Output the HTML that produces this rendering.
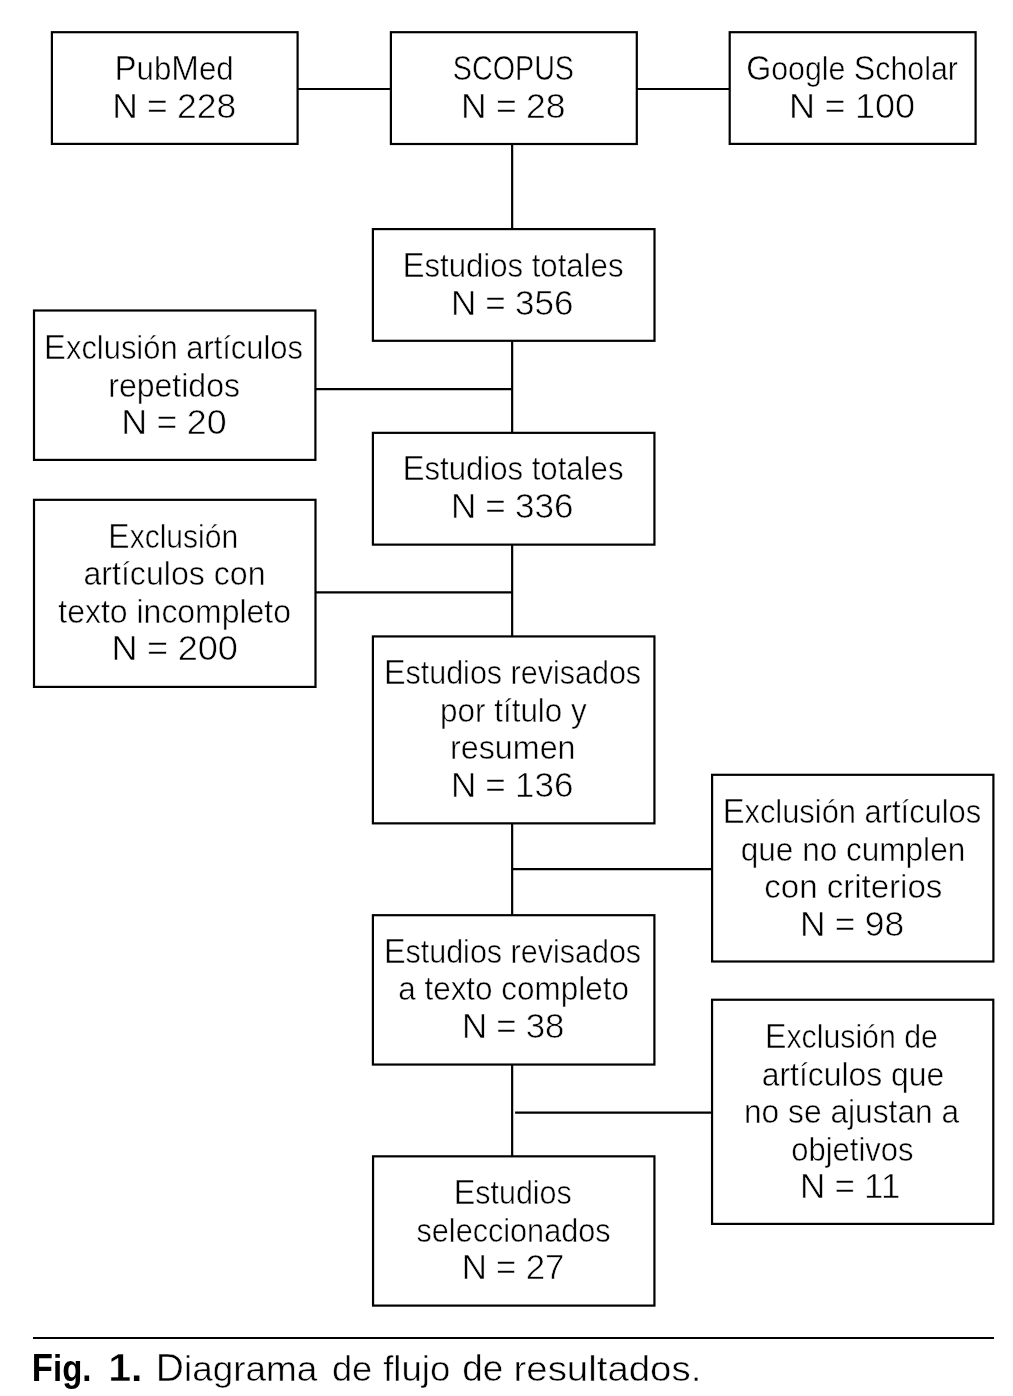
<!DOCTYPE html>
<html><head><meta charset="utf-8"><style>
html,body{margin:0;padding:0;background:#fff;width:1013px;height:1396px;overflow:hidden;}
svg{position:absolute;left:0;top:0;will-change:transform;}
text{font-family:"Liberation Sans",sans-serif;fill:#000;white-space:pre;stroke:#fff;stroke-width:0.5px;}
.u{stroke-width:0.6px;}
.bd{stroke-width:0px;}
</style></head><body>

<svg width="1013" height="1396" viewBox="0 0 1013 1396">
<g fill="none" stroke="#000" stroke-width="2.2">
<rect x="51.90" y="32.20" width="245.70" height="111.70"/>
<rect x="390.90" y="32.20" width="245.90" height="111.80"/>
<rect x="729.70" y="32.20" width="245.90" height="111.70"/>
<rect x="372.90" y="229.10" width="281.60" height="111.70"/>
<rect x="34.00" y="310.50" width="281.40" height="149.40"/>
<rect x="372.90" y="432.85" width="281.53" height="111.78"/>
<rect x="34.00" y="499.82" width="281.50" height="187.08"/>
<rect x="372.90" y="636.43" width="281.53" height="186.93"/>
<rect x="712.10" y="774.80" width="281.30" height="186.70"/>
<rect x="372.90" y="915.20" width="281.50" height="149.35"/>
<rect x="712.06" y="999.74" width="281.24" height="224.16"/>
<rect x="373.05" y="1156.34" width="281.38" height="149.26"/>
<line x1="297.60" y1="89.00" x2="390.90" y2="89.00"/>
<line x1="636.80" y1="89.00" x2="729.70" y2="89.00"/>
<line x1="512.15" y1="144.00" x2="512.15" y2="229.10"/>
<line x1="512.15" y1="340.80" x2="512.15" y2="432.85"/>
<line x1="315.40" y1="389.20" x2="512.15" y2="389.20"/>
<line x1="512.15" y1="544.63" x2="512.15" y2="636.43"/>
<line x1="315.40" y1="592.40" x2="512.15" y2="592.40"/>
<line x1="512.15" y1="823.36" x2="512.15" y2="915.20"/>
<line x1="512.15" y1="869.20" x2="712.10" y2="869.20"/>
<line x1="512.15" y1="1064.55" x2="512.15" y2="1156.34"/>
<line x1="515.10" y1="1112.60" x2="712.10" y2="1112.60"/>
<line x1="33" y1="1338.1" x2="994" y2="1338.1" stroke-width="2"/>
</g>
<text transform="translate(114.478,80.15) scale(0.94733,1)"><tspan font-size="35">P</tspan><tspan font-size="33">ub</tspan><tspan font-size="35">M</tspan><tspan font-size="33">ed</tspan></text>
<text transform="translate(112.180,117.55) scale(1.01339,1)"><tspan font-size="35">N</tspan><tspan font-size="33"> </tspan><tspan font-size="35" class="u">=</tspan><tspan font-size="33"> </tspan><tspan font-size="35" class="u">228</tspan></text>
<text transform="translate(452.799,80.20) scale(0.82028,1)"><tspan font-size="35">SCOPUS</tspan></text>
<text transform="translate(460.952,117.60) scale(1.01592,1)"><tspan font-size="35">N</tspan><tspan font-size="33"> </tspan><tspan font-size="35" class="u">=</tspan><tspan font-size="33"> </tspan><tspan font-size="35" class="u">28</tspan></text>
<text transform="translate(746.161,80.15) scale(0.91965,1)"><tspan font-size="35">G</tspan><tspan font-size="33">oogle </tspan><tspan font-size="35">S</tspan><tspan font-size="33">cholar</tspan></text>
<text transform="translate(789.009,117.55) scale(1.03034,1)"><tspan font-size="35">N</tspan><tspan font-size="33"> </tspan><tspan font-size="35" class="u">=</tspan><tspan font-size="33"> </tspan><tspan font-size="35" class="u">100</tspan></text>
<text transform="translate(402.389,277.35) scale(0.94357,1)"><tspan font-size="35">E</tspan><tspan font-size="33">studios totales</tspan></text>
<text transform="translate(450.877,314.75) scale(1.00102,1)"><tspan font-size="35">N</tspan><tspan font-size="33"> </tspan><tspan font-size="35" class="u">=</tspan><tspan font-size="33"> </tspan><tspan font-size="35" class="u">356</tspan></text>
<text transform="translate(44.070,359.47) scale(0.93669,1)"><tspan font-size="35">E</tspan><tspan font-size="33">xclusión artículos</tspan></text>
<text transform="translate(108.279,396.87) scale(0.97045,1)"><tspan font-size="33">repetidos</tspan></text>
<text transform="translate(121.248,434.27) scale(1.02388,1)"><tspan font-size="35">N</tspan><tspan font-size="33"> </tspan><tspan font-size="35" class="u">=</tspan><tspan font-size="33"> </tspan><tspan font-size="35" class="u">20</tspan></text>
<text transform="translate(402.389,480.35) scale(0.94357,1)"><tspan font-size="35">E</tspan><tspan font-size="33">studios totales</tspan></text>
<text transform="translate(450.877,517.75) scale(1.00102,1)"><tspan font-size="35">N</tspan><tspan font-size="33"> </tspan><tspan font-size="35" class="u">=</tspan><tspan font-size="33"> </tspan><tspan font-size="35" class="u">336</tspan></text>
<text transform="translate(108.368,547.85) scale(0.91080,1)"><tspan font-size="35">E</tspan><tspan font-size="33">xclusión</tspan></text>
<text transform="translate(83.392,585.25) scale(0.97388,1)"><tspan font-size="33">artículos con</tspan></text>
<text transform="translate(58.371,622.65) scale(0.96874,1)"><tspan font-size="33">texto incompleto</tspan></text>
<text transform="translate(111.461,660.05) scale(1.03305,1)"><tspan font-size="35">N</tspan><tspan font-size="33"> </tspan><tspan font-size="35" class="u">=</tspan><tspan font-size="33"> </tspan><tspan font-size="35" class="u">200</tspan></text>
<text transform="translate(383.886,684.43) scale(0.92460,1)"><tspan font-size="35">E</tspan><tspan font-size="33">studios revisados</tspan></text>
<text transform="translate(440.096,721.83) scale(0.95205,1)"><tspan font-size="33">por título y</tspan></text>
<text transform="translate(450.025,759.23) scale(0.97774,1)"><tspan font-size="33">resumen</tspan></text>
<text transform="translate(450.877,796.63) scale(1.00102,1)"><tspan font-size="35">N</tspan><tspan font-size="33"> </tspan><tspan font-size="35" class="u">=</tspan><tspan font-size="33"> </tspan><tspan font-size="35" class="u">136</tspan></text>
<text transform="translate(722.632,823.48) scale(0.93588,1)"><tspan font-size="35">E</tspan><tspan font-size="33">xclusión artículos</tspan></text>
<text transform="translate(740.767,860.88) scale(0.95643,1)"><tspan font-size="33">que no cumplen</tspan></text>
<text transform="translate(764.237,898.28) scale(1.00126,1)"><tspan font-size="33">con criterios</tspan></text>
<text transform="translate(799.963,935.68) scale(1.01245,1)"><tspan font-size="35">N</tspan><tspan font-size="33"> </tspan><tspan font-size="35" class="u">=</tspan><tspan font-size="33"> </tspan><tspan font-size="35" class="u">98</tspan></text>
<text transform="translate(383.886,962.87) scale(0.92460,1)"><tspan font-size="35">E</tspan><tspan font-size="33">studios revisados</tspan></text>
<text transform="translate(398.214,1000.27) scale(0.95319,1)"><tspan font-size="33">a texto completo</tspan></text>
<text transform="translate(462.017,1037.67) scale(0.99429,1)"><tspan font-size="35">N</tspan><tspan font-size="33"> </tspan><tspan font-size="35" class="u">=</tspan><tspan font-size="33"> </tspan><tspan font-size="35" class="u">38</tspan></text>
<text transform="translate(765.028,1048.48) scale(0.91728,1)"><tspan font-size="35">E</tspan><tspan font-size="33">xclusión de</tspan></text>
<text transform="translate(761.746,1085.88) scale(0.96692,1)"><tspan font-size="33">artículos que</tspan></text>
<text transform="translate(743.893,1123.28) scale(0.96235,1)"><tspan font-size="33">no se ajustan a</tspan></text>
<text transform="translate(791.346,1160.68) scale(0.93701,1)"><tspan font-size="33">objetivos</tspan></text>
<text transform="translate(800.001,1198.08) scale(0.99979,1)"><tspan font-size="35">N</tspan><tspan font-size="33"> </tspan><tspan font-size="35" class="u">=</tspan><tspan font-size="33"> </tspan><tspan font-size="35" class="u">11</tspan></text>
<text transform="translate(453.794,1204.10) scale(0.92210,1)"><tspan font-size="35">E</tspan><tspan font-size="33">studios</tspan></text>
<text transform="translate(416.483,1241.50) scale(0.92825,1)"><tspan font-size="33">seleccionados</tspan></text>
<text transform="translate(461.790,1278.90) scale(0.99653,1)"><tspan font-size="35">N</tspan><tspan font-size="33"> </tspan><tspan font-size="35" class="u">=</tspan><tspan font-size="33"> </tspan><tspan font-size="35" class="u">27</tspan></text>
<text transform="translate(31.831,1381.00) scale(0.91443,1)" font-weight="bold" class="bd"><tspan font-size="38">F</tspan><tspan font-size="36">ig.</tspan></text>
<text transform="translate(108.206,1381.00) scale(1.08462,1)" font-weight="bold" class="bd"><tspan font-size="38" class="u">1</tspan><tspan font-size="36">.</tspan></text>
<text transform="translate(155.804,1381.00) scale(1.02532,1)"><tspan font-size="38">D</tspan><tspan font-size="36">iagrama</tspan></text>
<text transform="translate(331.882,1381.00) scale(1.00889,1)"><tspan font-size="36">de</tspan></text>
<text transform="translate(383.204,1381.00) scale(1.01587,1)"><tspan font-size="36">flujo</tspan></text>
<text transform="translate(462.291,1381.00) scale(1.02444,1)"><tspan font-size="36">de</tspan></text>
<text transform="translate(513.479,1381.00) scale(1.06686,1)"><tspan font-size="36">resultados.</tspan></text>
</svg></body></html>
